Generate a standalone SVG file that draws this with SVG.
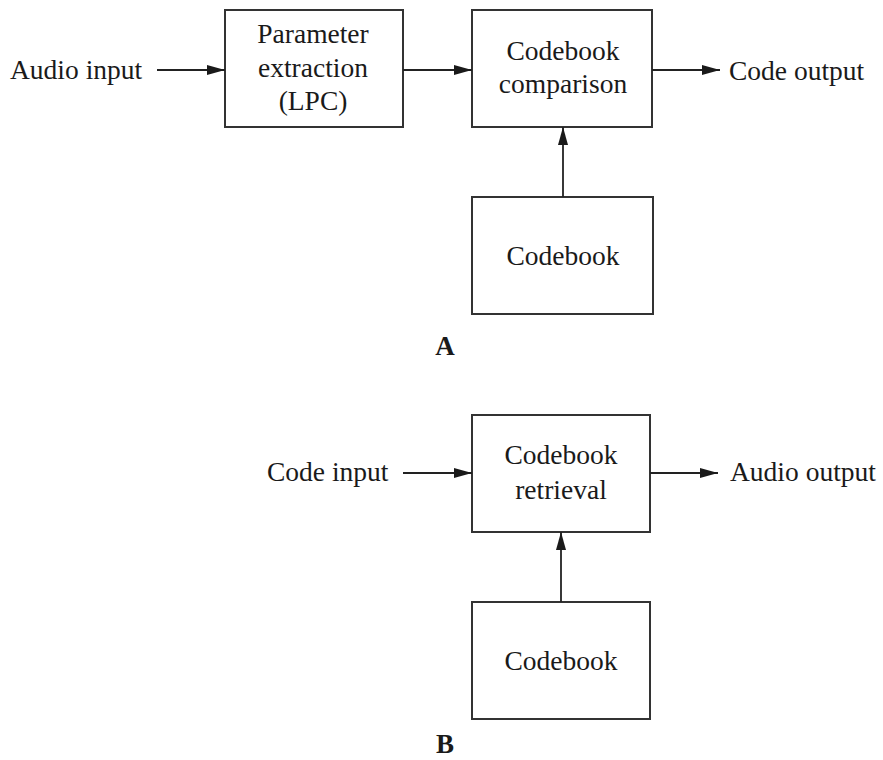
<svg xmlns="http://www.w3.org/2000/svg" width="883" height="760" viewBox="0 0 883 760">
  <style>
    .box { fill: #ffffff; stroke: #333333; stroke-width: 2; }
    .t { font-family: "Liberation Serif", "Times New Roman", serif; font-size: 27.5px; fill: #1a1a1a; }
    .c { text-anchor: middle; }
    .lbl { font-family: "Liberation Serif", "Times New Roman", serif; font-size: 27px; font-weight: bold; fill: #1a1a1a; text-anchor: middle; }
    .conn { stroke: #222222; stroke-width: 1.8; fill: none; marker-end: url(#arrow); }
  </style>
  <defs>
    <marker id="arrow" markerUnits="userSpaceOnUse" markerWidth="20" markerHeight="12" refX="18" refY="5" orient="auto">
      <path d="M0,0 L18,5 L0,10 Z" fill="#1a1a1a"/>
    </marker>
  </defs>
  <rect width="883" height="760" fill="#ffffff"/>

  <g id="audio-input">
    <text class="t" x="10" y="79">Audio input</text>
  </g>
  <g id="parameter-extraction">
    <rect class="box" x="225" y="10" width="178" height="117"/>
    <text class="t c" x="313" y="43">Parameter</text>
    <text class="t c" x="313" y="77">extraction</text>
    <text class="t c" x="313" y="110">(LPC)</text>
  </g>
  <g id="codebook-comparison">
    <rect class="box" x="472" y="10" width="180" height="117"/>
    <text class="t c" x="563" y="60">Codebook</text>
    <text class="t c" x="563" y="93">comparison</text>
  </g>
  <g id="code-output">
    <text class="t" x="729" y="80">Code output</text>
  </g>
  <g id="codebook-a">
    <rect class="box" x="472" y="197" width="181" height="117"/>
    <text class="t c" x="563" y="265">Codebook</text>
  </g>
  <g id="label-a">
    <text class="lbl" x="445" y="355">A</text>
  </g>

  <g id="code-input">
    <text class="t" x="267" y="481">Code input</text>
  </g>
  <g id="codebook-retrieval">
    <rect class="box" x="472" y="415" width="178" height="117"/>
    <text class="t c" x="561" y="464">Codebook</text>
    <text class="t c" x="561" y="499">retrieval</text>
  </g>
  <g id="audio-output">
    <text class="t" x="730" y="481">Audio output</text>
  </g>
  <g id="codebook-b">
    <rect class="box" x="472" y="602" width="178" height="117"/>
    <text class="t c" x="561" y="670">Codebook</text>
  </g>
  <g id="label-b">
    <text class="lbl" x="445" y="753">B</text>
  </g>

  <g id="connectors">
    <line class="conn" x1="157" y1="70" x2="225" y2="70"/>
    <line class="conn" x1="403" y1="70" x2="472" y2="70"/>
    <line class="conn" x1="652" y1="70" x2="720" y2="70"/>
    <line class="conn" x1="563" y1="197" x2="563" y2="127"/>
    <line class="conn" x1="403" y1="473" x2="472" y2="473"/>
    <line class="conn" x1="650" y1="473" x2="718" y2="473"/>
    <line class="conn" x1="561" y1="602" x2="561" y2="532"/>
  </g>
</svg>
